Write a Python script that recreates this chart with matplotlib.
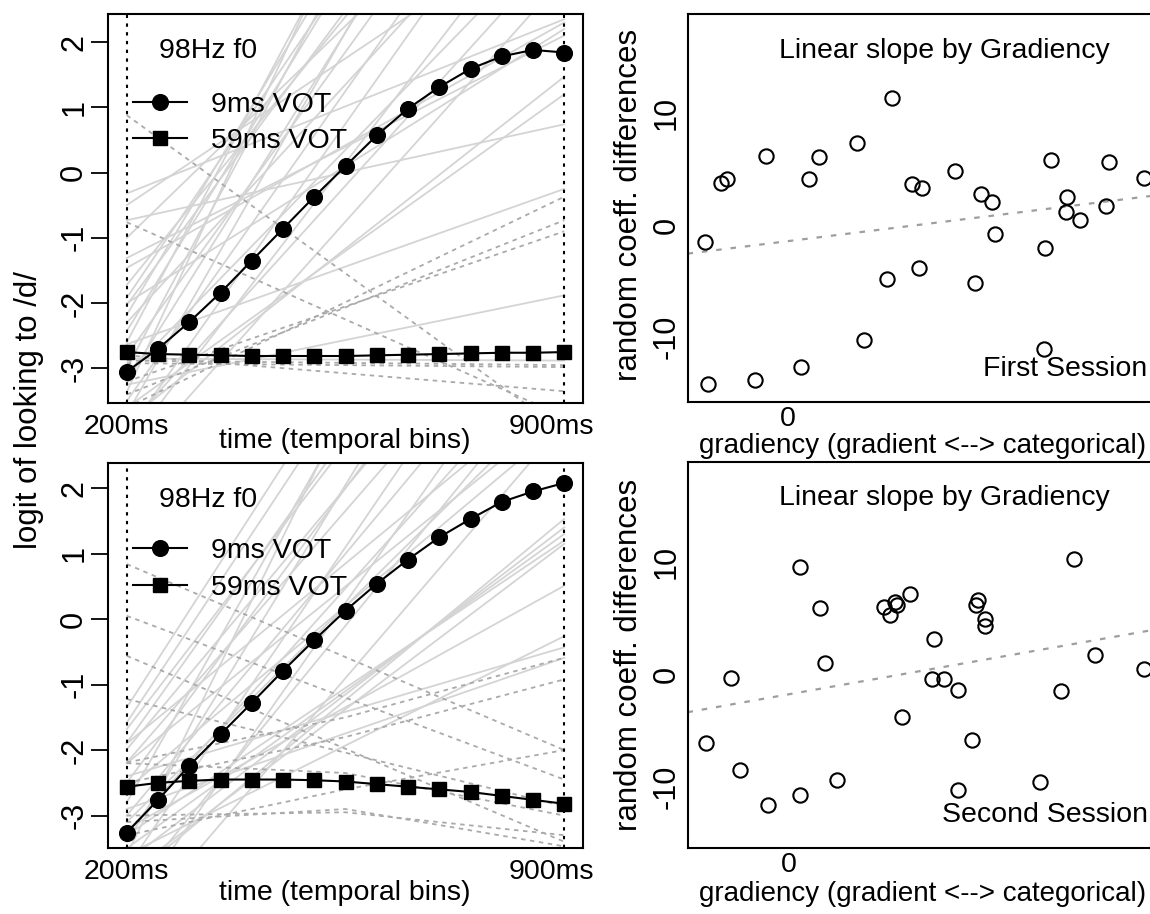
import numpy as np
import matplotlib
matplotlib.use("Agg")
import matplotlib.pyplot as plt

plt.rcParams['font.family'] = ['Liberation Sans', 'DejaVu Sans']
plt.rcParams['axes.unicode_minus'] = False

# ---------------- data ----------------
time_ms = [200, 250, 300, 350, 400, 450, 500, 550, 600, 650, 700, 750, 800, 850, 900]

top_vot9 = [-3.05, -2.70, -2.29, -1.84, -1.35, -0.86, -0.37, 0.10, 0.57, 0.98, 1.31, 1.59, 1.78, 1.88, 1.84]
top_vot59 = [-2.75, -2.78, -2.79, -2.80, -2.81, -2.81, -2.81, -2.81, -2.80, -2.79, -2.78, -2.77, -2.76, -2.76, -2.75]
bot_vot9 = [-3.26, -2.76, -2.24, -1.76, -1.28, -0.79, -0.32, 0.13, 0.54, 0.91, 1.25, 1.53, 1.79, 1.95, 2.08]
bot_vot59 = [-2.56, -2.50, -2.47, -2.45, -2.45, -2.45, -2.46, -2.48, -2.52, -2.56, -2.60, -2.64, -2.70, -2.76, -2.82]

# individual-subject lines (value at 200ms, value at 900ms)
top_solid_start = [-0.32, -0.73, -0.50, -2.63, -3.25, -2.85, -3.6, -3.8, -1.31, -1.46, -2.0, -1.72, -1.92,
                   -2.03, -2.18, -2.43, -2.6, -3.0, -3.2, -3.36, -3.5, -3.7, -4.0, -4.2, -3.9, -2.3, -1.0,
                   -2.8, -3.1, -4.5]
top_solid_end = [2.35, 0.74, 4.0, -0.25, -1.88, -2.88, 1.2, 1.47, 2.1, 2.3, 2.2, 6.5, 8.0,
                 7.0, 9.0, 8.5, 10.0, 9.5, 7.5, 11.0, 6.0, 8.0, 5.5, 4.5, 3.5, 5.0, 5.5,
                 6.5, 3.8, 3.0]
top_dash_start = [0.88, -0.76, -3.6, -3.4, -3.2, -2.88, -2.92, -2.8]
top_dash_end = [-3.97, -3.74, -0.37, -0.73, -0.90, -2.95, -2.98, -3.35]

bot_solid_start = [-1.35, -1.58, -1.68, -1.89, -1.99, -2.19, -2.5, -2.8, -3.0, -3.26, -3.4, -3.6, -3.8,
                   -4.0, -3.7, -3.5, -3.3, -3.9, -3.2, -3.6, -2.4, -2.9, -4.2, -4.5, -2.2, -1.9, -2.6,
                   -3.1, -4.8]
bot_solid_end = [9.0, 8.5, 7.0, 7.5, 6.0, 5.5, 6.5, 9.0, 5.0, 4.2, 7.5, 10.0, 6.0,
                 1.53, 1.40, 1.30, 1.20, 1.15, 0.51, -0.26, -0.43, -0.59, 4.0, 5.0, 3.2, 3.6, 3.0,
                 3.5, 3.0]
# dashed subject lines in the second session (200ms, 550ms, 900ms)
bot_dash_start = [0.84, 0.05, -0.56, -1.22, -2.19, -2.5, -3.0, -3.1, -2.2, -3.3]
bot_dash_mid = [-0.58, -1.20, -1.98, -2.04, -1.50, -1.80, -2.95, -2.90, -2.35, -2.60]
bot_dash_end = [-2.00, -2.45, -3.40, -2.86, -0.59, -0.92, -3.30, -3.47, -3.00, -2.00]

# gradiency scatter, first session
grad1_x = [-0.207, -0.200, -0.1675, -0.152, -0.083, -0.056, 0.0325, 0.0525, 0.077, 0.173, 0.190, 0.2465,
           0.259, 0.311, 0.335, 0.328, 0.418, 0.4665, 0.483, 0.5095, 0.517, 0.640, 0.642, 0.657, 0.697,
           0.696, 0.7305, 0.7945, 0.802, 0.889]
grad1_y = [-1.55, -14.23, 3.79, 4.12, -13.88, 6.20, -12.68, 4.12, 6.06, 7.31, -10.30, -4.83,
           11.34, 3.70, 3.31, -3.88, 4.86, -5.22, 2.78, 2.06, -0.83, -11.10, -2.06, 5.79, 2.51,
           1.16, 0.47, 1.70, 5.61, 4.18]
fit1_intercept, fit1_slope = -1.44, 4.46

# gradiency scatter, second session
grad2_x = [-0.2085, -0.146, -0.1225, -0.054, 0.027, 0.027, 0.078, 0.0895, 0.1185, 0.236, 0.251, 0.264,
           0.2685, 0.302, 0.2815, 0.3615, 0.358, 0.387, 0.423, 0.422, 0.458, 0.466, 0.471, 0.490,
           0.490, 0.628, 0.680, 0.713, 0.765, 0.887]
grad2_y = [-6.09, -0.35, -8.46, -11.54, 9.55, -10.68, 5.89, 1.04, -9.38, 6.03, 5.32, 6.42,
           6.18, 7.16, -3.79, 3.11, -0.44, -0.44, -1.36, -10.27, -5.83, 6.18, 6.63, 4.88,
           4.29, -9.56, -1.48, 10.23, 1.75, 0.47]
fit2_intercept, fit2_slope = -1.75, 6.27

# ---------------- figure ----------------
W, H = 1150, 914
FS = 20.5      # horizontal text
FSV = 22.5     # vertical (rotated) text
fig = plt.figure(figsize=(W / 100, H / 100), dpi=100)


def box(l, t, r, b):
    return [l / W, 1 - b / H, (r - l) / W, (b - t) / H]


def fxy(x, y):
    return x / W, 1 - y / H


LIGHT = '#d4d4d4'
DASHG = '#aaaaaa'


def time_panel(ax, v9, v59, s_start, s_end, d_lines, ylim, leg_y):
    for s, e in zip(s_start, s_end):
        ax.plot([200, 900], [s, e], color=LIGHT, lw=1.3, zorder=1)
    for pts in d_lines:
        xs = [200, 550, 900] if len(pts) == 3 else [200, 900]
        ax.plot(xs, pts, color=DASHG, lw=1.3, ls=(0, (2.5, 2.5)), zorder=1)
    ax.axvline(200, color='black', lw=1.5, ls=(0, (1.6, 2.6)), zorder=2)
    ax.axvline(900, color='black', lw=1.5, ls=(0, (1.6, 2.6)), zorder=2)
    ax.plot(time_ms, v9, color='black', lw=1.5, marker='o', ms=11.3, zorder=4, label='9ms VOT')
    ax.plot(time_ms, v59, color='black', lw=1.5, marker='s', ms=9.5, zorder=4, label='59ms VOT')
    ax.set_xlim(170, 930)
    ax.set_ylim(*ylim)
    ax.set_xticks([200, 880])
    ax.set_xticklabels(['200ms', '900ms'], fontsize=FS)
    ax.tick_params(axis='x', length=0, pad=8)
    ax.set_yticks([-3, -2, -1, 0, 1, 2])
    ax.set_yticklabels(['-3', '-2', '-1', '0', '1', '2'], fontsize=22, rotation=90, va='center')
    ax.tick_params(axis='y', length=12.5, width=1.3, pad=1)
    for sp in ax.spines.values():
        sp.set_linewidth(1.5)
    ax.text(0.107, 0.905, '98Hz f0', transform=ax.transAxes, fontsize=FS, va='center', ha='left')
    ax.legend(loc='upper left', bbox_to_anchor=(0.053, leg_y), frameon=False, fontsize=FS,
              handlelength=1.9, handletextpad=0.85, labelspacing=0.36, borderpad=0, borderaxespad=0)


ax1 = fig.add_axes(box(108, 14, 583, 403))
time_panel(ax1, top_vot9, top_vot59, top_solid_start, top_solid_end,
           list(zip(top_dash_start, top_dash_end)), (-3.53, 2.43), 0.799)

ax2 = fig.add_axes(box(108, 463.3, 583, 848.3))
time_panel(ax2, bot_vot9, bot_vot59, bot_solid_start, bot_solid_end,
           list(zip(bot_dash_start, bot_dash_mid, bot_dash_end)), (-3.50, 2.38), 0.805)


def grad_panel(ax, gx, gy, b0, b1, xlim, ylim, tag):
    ax.axline((0, b0), slope=b1, color='#9e9e9e', lw=1.6, ls=(0, (2.5, 4)), zorder=1)
    ax.plot(gx, gy, ls='none', marker='o', ms=10.3, mfc='none', mec='black', mew=1.5, zorder=3)
    ax.set_xlim(*xlim)
    ax.set_ylim(*ylim)
    ax.set_xticks([0])
    ax.set_xticklabels(['0'], fontsize=FS)
    ax.tick_params(axis='x', length=0, pad=3)
    ax.set_yticks([-10, 0, 10])
    ax.set_yticklabels(['-10', '0', '10'], fontsize=22, rotation=90, va='center')
    ax.tick_params(axis='y', length=0, pad=4)
    for sp in ax.spines.values():
        sp.set_linewidth(1.5)
    ax.text(0.502, 0.905, 'Linear slope by Gradiency', transform=ax.transAxes, fontsize=FS,
            ha='center', va='center')
    ax.text(0.898, 0.087, tag, transform=ax.transAxes, fontsize=FS, ha='right', va='center')


ax3 = fig.add_axes(box(687.5, 14, 1200, 402.3))
grad_panel(ax3, grad1_x, grad1_y, fit1_intercept, fit1_slope, (-0.251, 1.03), (-15.87, 18.9), 'First Session')

ax4 = fig.add_axes(box(687.5, 461.7, 1200, 848.3))
grad_panel(ax4, grad2_x, grad2_y, fit2_intercept, fit2_slope, (-0.254, 1.027), (-15.41, 18.87), 'Second Session')

# axis titles
fig.text(*fxy(345, 441), 'time (temporal bins)', fontsize=FS, ha='center', va='center')
fig.text(*fxy(345, 893), 'time (temporal bins)', fontsize=FS, ha='center', va='center')
fig.text(*fxy(923, 446), 'gradiency (gradient <--> categorical)', fontsize=20, ha='center', va='center')
fig.text(*fxy(923, 894), 'gradiency (gradient <--> categorical)', fontsize=20, ha='center', va='center')
fig.text(*fxy(29, 410), 'logit of looking to /d/', fontsize=FSV, ha='center', va='center', rotation=90)
fig.text(*fxy(629, 205), 'random coeff. differences', fontsize=FSV, ha='center', va='center', rotation=90)
fig.text(*fxy(629, 655), 'random coeff. differences', fontsize=FSV, ha='center', va='center', rotation=90)

fig.savefig('out.png', dpi=100)
